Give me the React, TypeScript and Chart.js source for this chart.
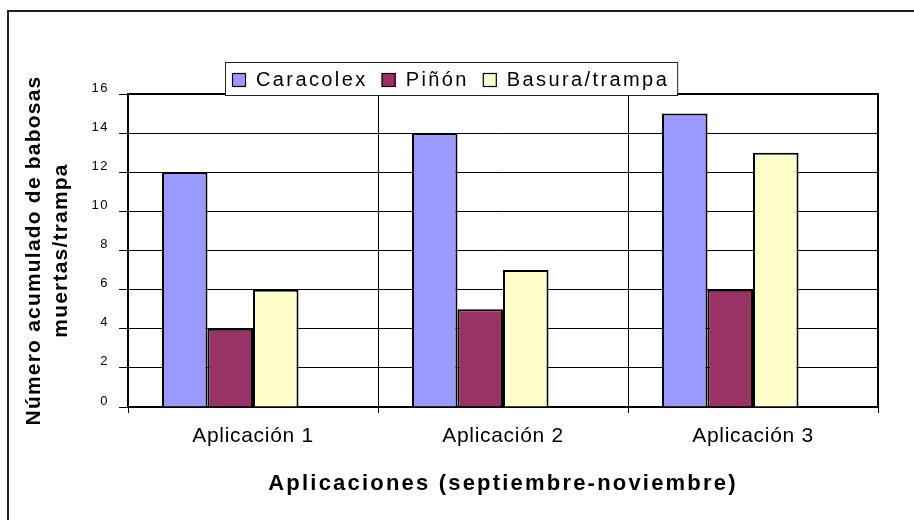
import React, { useEffect, useRef } from "react";
import { Chart, registerables } from "chart.js";

Chart.register(...registerables);

const categories = ["Aplicación 1", "Aplicación 2", "Aplicación 3"];
const seriesNames = ["Caracolex", "Piñón", "Basura/trampa"];
const caracolex = [12, 14, 15];
const pinon = [4, 5, 6];
const basura = [6, 7, 13];
const emptySeries = [null, null, null];
const seriesColors = ["#9999FF", "#993366", "#FFFFCC"];
const yTitle = ["Número acumulado de babosas", "muertas/trampa"];
const xTitle = "Aplicaciones (septiembre-noviembre)";

const FONT = "'Liberation Sans', Arial, Helvetica, sans-serif";

function wrapSpacing(scale: any, name: string, spacing: string) {
  const key = "__wrapped_" + name;
  if (scale[key]) return;
  const orig = scale[name];
  scale[name] = function (...args: any[]) {
    const ctx = this.ctx;
    ctx.save();
    try {
      (ctx as any).letterSpacing = spacing;
    } catch (e) {}
    orig.apply(this, args);
    ctx.restore();
  };
  scale[key] = true;
}

const spacingPlugin = {
  id: "spacing",
  beforeDraw(chart: any) {
    wrapSpacing(chart.scales.x, "drawLabels", "0.7px");
    wrapSpacing(chart.scales.x, "drawTitle", "2.2px");
    wrapSpacing(chart.scales.y, "drawLabels", "1.5px");
    wrapSpacing(chart.scales.y, "drawTitle", "1.2px");
  },
};

const plotBorderPlugin = {
  id: "plotBorder",
  beforeDatasetsDraw(chart: any) {
    const { ctx, chartArea } = chart;
    ctx.save();
    ctx.strokeStyle = "#000";
    ctx.lineWidth = 2;
    ctx.strokeRect(chartArea.left, chartArea.top, chartArea.right - chartArea.left, chartArea.bottom - chartArea.top);
    ctx.restore();
  },
};

const legendPlugin = {
  id: "customLegend",
  afterDraw(chart: any) {
    const ctx = chart.ctx;
    ctx.save();
    ctx.font = `20px ${FONT}`;
    try {
      (ctx as any).letterSpacing = "2.4px";
    } catch (e) {}
    const items = chart.data.datasets.slice(0, 3).map((d: any) => ({
      label: d.label,
      color: d.backgroundColor,
      w: ctx.measureText(d.label).width,
    }));
    const padL = 7, sq = 14, gapT = 10, gapI = 14, padR = 8;
    let total = padL + padR;
    items.forEach((it: any, i: number) => {
      total += sq + gapT + it.w + (i > 0 ? gapI : 0);
    });
    const bx = 225, by = 62, bh = 33;
    ctx.fillStyle = "#fff";
    ctx.fillRect(bx, by, total, bh);
    ctx.strokeStyle = "#222";
    ctx.lineWidth = 1;
    ctx.strokeRect(bx + 0.5, by + 0.5, total, bh);
    let x = bx + padL;
    const cy = 80;
    ctx.textBaseline = "middle";
    ctx.textAlign = "left";
    items.forEach((it: any) => {
      ctx.fillStyle = it.color;
      ctx.fillRect(x, cy - 7, sq, sq);
      ctx.strokeStyle = "#000";
      ctx.lineWidth = 1.2;
      ctx.strokeRect(x + 0.5, cy - 7 + 0.5, sq - 1, sq - 1);
      x += sq + gapT;
      ctx.fillStyle = "#000";
      ctx.fillText(it.label, x, cy);
      x += it.w + gapI;
    });
    ctx.restore();
  },
};

export default function App() {
  const ref = useRef<HTMLCanvasElement | null>(null);
  useEffect(() => {
    if (!ref.current) return;
    const ds = (label: string, data: any[], color: string) => ({
      label,
      data,
      backgroundColor: color,
      borderColor: "#000",
      borderWidth: 2,
      categoryPercentage: 0.728,
      barPercentage: 1,
    });
    const chart = new Chart(ref.current, {
      type: "bar",
      data: {
        labels: categories,
        datasets: [
          ds(seriesNames[0], caracolex, seriesColors[0]),
          ds(seriesNames[1], pinon, seriesColors[1]),
          ds(seriesNames[2], basura, seriesColors[2]),
          ds("", emptySeries, "rgba(0,0,0,0)"),
        ],
      },
      options: {
        animation: false,
        responsive: false,
        devicePixelRatio: 1,
        layout: { padding: { left: 0, right: 36, top: 94, bottom: 0 } },
        plugins: {
          legend: { display: false },
          tooltip: { enabled: false },
          title: { display: false },
        },
        scales: {
          x: {
            offset: true,
            grid: {
              offset: true,
              color: "#000",
              lineWidth: 1,
              tickLength: 6,
              drawTicks: true,
            },
            border: { display: true, color: "#000", width: 2 },
            ticks: {
              color: "#000",
              font: { family: FONT, size: 21 },
              padding: 11,
              maxRotation: 0,
            },
            title: {
              display: true,
              text: xTitle,
              color: "#000",
              font: { family: FONT, size: 22, weight: "bold", lineHeight: 1.2 },
              padding: { top: 0, bottom: 23 },
            },
            afterFit(scale: any) {
              scale.height = 113;
            },
          },
          y: {
            min: 0,
            max: 16,
            ticks: {
              stepSize: 2,
              color: "#000",
              font: { family: FONT, size: 13 },
              padding: 10,
              labelOffset: -6,
            },
            grid: {
              color: "#000",
              lineWidth: 1,
              tickLength: 9,
              drawTicks: true,
            },
            border: { display: true, color: "#000", width: 2 },
            title: {
              display: true,
              text: yTitle,
              color: "#000",
              font: { family: FONT, size: 21, weight: "bold", lineHeight: 27 / 21 },
              padding: { top: 21, bottom: 0 },
            },
            afterFit(scale: any) {
              scale.width = 128;
            },
          },
        },
      } as any,
      plugins: [spacingPlugin, plotBorderPlugin, legendPlugin],
    });
    return () => chart.destroy();
  }, []);

  return (
    <div style={{ position: "fixed", left: 0, top: 0, width: 914, height: 520, background: "#fff" }}>
      <canvas ref={ref} width={914} height={520} style={{ position: "absolute", left: 0, top: 0, width: 914, height: 520 }} />
      <div
        style={{
          position: "absolute",
          left: 7,
          top: 10,
          width: 950,
          height: 560,
          borderTop: "2px solid #222",
          borderLeft: "2px solid #222",
          pointerEvents: "none",
        }}
      />
    </div>
  );
}
